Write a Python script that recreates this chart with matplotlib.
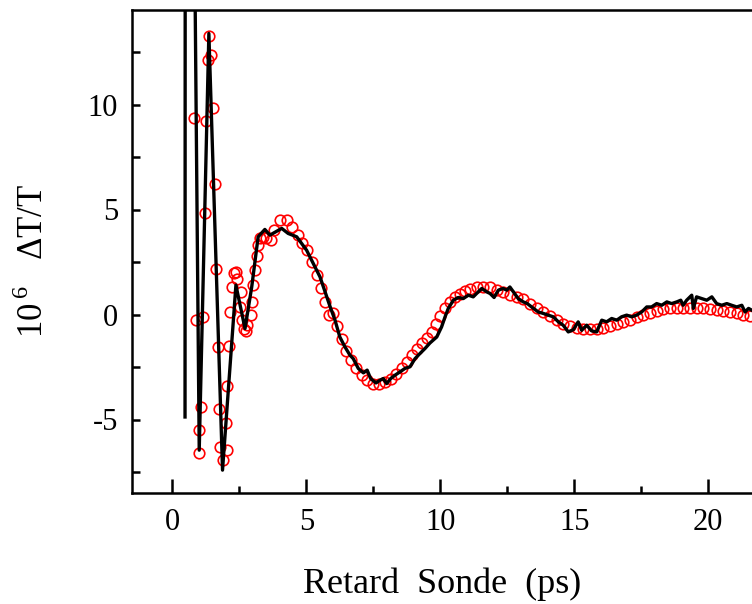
import numpy as np
import matplotlib.pyplot as plt

plt.rcParams['font.family'] = ['Liberation Serif', 'DejaVu Serif']
plt.rcParams['mathtext.fontset'] = 'custom'
plt.rcParams['mathtext.rm'] = 'Liberation Serif'
plt.rcParams['axes.unicode_minus'] = False

# measured signal (black line)
t_exp = [0.47, 0.48, 0.74, 1.00, 1.36, 1.87, 2.37, 2.71, 2.96, 3.20, 3.45, 3.64, 4.08, 4.32,
         4.64, 5.01, 5.51, 5.88, 6.07, 6.25, 6.44, 6.63, 6.75, 6.94, 7.13, 7.27, 7.40, 7.60,
         7.75, 7.87, 8.00, 8.15, 8.31, 8.50, 8.68, 8.87, 9.06, 9.24, 9.43, 9.62, 9.87, 10.05,
         10.18, 10.30, 10.49, 10.67, 10.86, 11.05, 11.23, 11.42, 11.55, 11.73, 11.86, 12.01,
         12.17, 12.35, 12.48, 12.60, 12.73, 12.91, 13.10, 13.25, 13.41, 13.66, 13.85, 14.03,
         14.22, 14.41, 14.59, 14.78, 14.97, 15.15, 15.28, 15.47, 15.65, 15.84, 16.03, 16.21,
         16.40, 16.59, 16.77, 16.96, 17.15, 17.33, 17.52, 17.71, 17.89, 18.08, 18.27, 18.46,
         18.64, 18.83, 18.98, 19.07, 19.20, 19.39, 19.45, 19.57, 19.76, 19.95, 20.14, 20.32,
         20.51, 20.70, 20.88, 21.07, 21.26, 21.38, 21.51, 21.64]
s_exp = [-4.88, 30.0, 30.0, -6.46, 13.38, -7.41, 1.40, -0.67, 1.31, 3.70, 4.05, 3.78, 4.10, 3.86,
         3.70, 3.06, 1.79, 0.40, -0.27, -1.07, -1.54, -1.94, -2.10, -2.57, -2.78, -2.65, -3.05, -3.26,
         -3.13, -3.05, -3.29, -3.05, -2.89, -2.73, -2.57, -2.49, -2.10, -1.86, -1.62, -1.35, -1.07, -0.59,
         -0.11, 0.29, 0.68, 0.81, 0.76, 0.92, 0.84, 1.08, 1.24, 1.08, 1.00, 0.81,
         1.16, 1.24, 1.16, 1.31, 1.08, 0.76, 0.60, 0.52, 0.36, 0.12, 0.05, -0.03,
         -0.11, -0.35, -0.51, -0.83, -0.72, -0.35, -0.75, -0.51, -0.78, -0.83, -0.27, -0.35,
         -0.19, -0.27, -0.11, -0.03, -0.11, -0.03, 0.12, 0.36, 0.36, 0.52, 0.44, 0.60,
         0.52, 0.60, 0.68, 0.44, 0.68, 0.92, 0.29, 0.84, 0.76, 0.68, 0.84, 0.52,
         0.44, 0.52, 0.44, 0.36, 0.44, 0.12, 0.29, 0.20]

# fit (red circles)
t_fit = [0.815, 0.865, 0.99, 1.00, 1.05, 1.13, 1.21, 1.26, 1.31, 1.375, 1.45, 1.52, 1.59, 1.62,
         1.69, 1.74, 1.77, 1.90, 2.00, 2.02, 2.05, 2.11, 2.15, 2.21, 2.31, 2.37, 2.41, 2.52,
         2.56, 2.58, 2.67, 2.74, 2.79, 2.92, 2.98, 3.02, 3.08, 3.14, 3.20, 3.27, 3.39, 3.48,
         3.68, 3.80, 4.01, 4.26, 4.45, 4.67, 4.82, 5.03, 5.20, 5.38, 5.55, 5.69, 5.86,
         5.98, 6.15, 6.32, 6.48, 6.65, 6.85, 7.06, 7.25, 7.47, 7.72, 7.93, 8.15, 8.35, 8.56,
         8.74, 8.93, 9.12, 9.30, 9.49, 9.68, 9.84, 9.99, 10.18, 10.36, 10.55, 10.74, 10.92,
         11.11, 11.36, 11.61, 11.86, 12.11, 12.35, 12.60, 12.85, 13.10, 13.35, 13.60, 13.85,
         14.10, 14.35, 14.59, 14.84, 15.09, 15.34, 15.59, 15.84, 16.09, 16.34, 16.59, 16.83,
         17.08, 17.33, 17.58, 17.83, 18.08, 18.33, 18.58, 18.83, 19.07, 19.32, 19.57, 19.82,
         20.07, 20.32, 20.57, 20.82, 21.07, 21.31, 21.56]
s_fit = [9.38, -0.27, -6.59, -5.51, -4.40, -0.11, 4.81, 9.22, 12.14, 13.25, 12.35, 9.81, 6.20, 2.19,
         -1.54, -4.48, -6.30, -6.94, -5.16, -6.46, -3.40, -1.51, 0.12, 1.31, 1.98, 2.03, 1.67, 0.36,
         1.08, -0.27, -0.67, -0.78, -0.51, -0.03, 0.60, 1.40, 2.14, 2.78, 3.30, 3.62, 3.67, 3.62,
         3.54, 4.01, 4.49, 4.49, 4.17, 3.78, 3.41, 3.06, 2.51, 1.87, 1.24, 0.60, -0.03,
         0.05, -0.56, -1.19, -1.73, -2.18, -2.57, -2.89, -3.13, -3.29, -3.32, -3.21, -3.05, -2.81, -2.57,
         -2.26, -1.94, -1.62, -1.38, -1.14, -0.83, -0.46, -0.08, 0.29, 0.60, 0.84, 1.00, 1.12,
         1.20, 1.29, 1.31, 1.29, 1.19, 1.08, 0.95, 0.81, 0.76, 0.52, 0.33, 0.12,
         -0.08, -0.27, -0.43, -0.56, -0.64, -0.68, -0.70, -0.68, -0.62, -0.56, -0.46, -0.35,
         -0.24, -0.11, 0.00, 0.09, 0.17, 0.24, 0.29, 0.32, 0.33, 0.33, 0.33, 0.30,
         0.25, 0.20, 0.16, 0.11, 0.05, 0.00, -0.05]

fig = plt.figure(figsize=(7.52, 6.04), dpi=100)
ax = fig.add_axes([132/752, 111/604, 620/752, 483/604])

ax.plot(t_fit, s_fit, 'o', mfc='none', mec='red', ms=7.6, mew=1.2, zorder=2)
ax.plot(t_exp, s_exp, 'k-', lw=2.4, zorder=3)

ax.set_xlim(-1.51, 21.64)
ax.set_ylim(-8.5, 14.5)
ax.set_xticks([0, 5, 10, 15, 20])
ax.set_xticks([2.5, 7.5, 12.5, 17.5], minor=True)
ax.set_yticks([-5, 0, 5, 10])
ax.set_yticks([-7.5, -2.5, 2.5, 7.5, 12.5], minor=True)

for sp in ['left', 'bottom', 'top']:
    ax.spines[sp].set_linewidth(1.8)
ax.spines['right'].set_visible(False)

ax.tick_params(axis='both', which='both', direction='in', width=1.8, labelsize=22)
ax.tick_params(axis='x', which='major', length=10, pad=11)
ax.tick_params(axis='x', which='minor', length=5)
ax.tick_params(axis='y', which='major', length=6, pad=10)
ax.tick_params(axis='y', which='minor', length=6)

ax.set_xlabel("Retard  Sonde  (ps)", fontsize=26)
ax.set_ylabel("10$^{\\,6}$   \u0394T/T", fontsize=25)
ax.xaxis.set_label_coords(0.5, -0.155)
ax.yaxis.set_label_coords(-0.13, 0.48)

plt.savefig("out.png", dpi=100)
